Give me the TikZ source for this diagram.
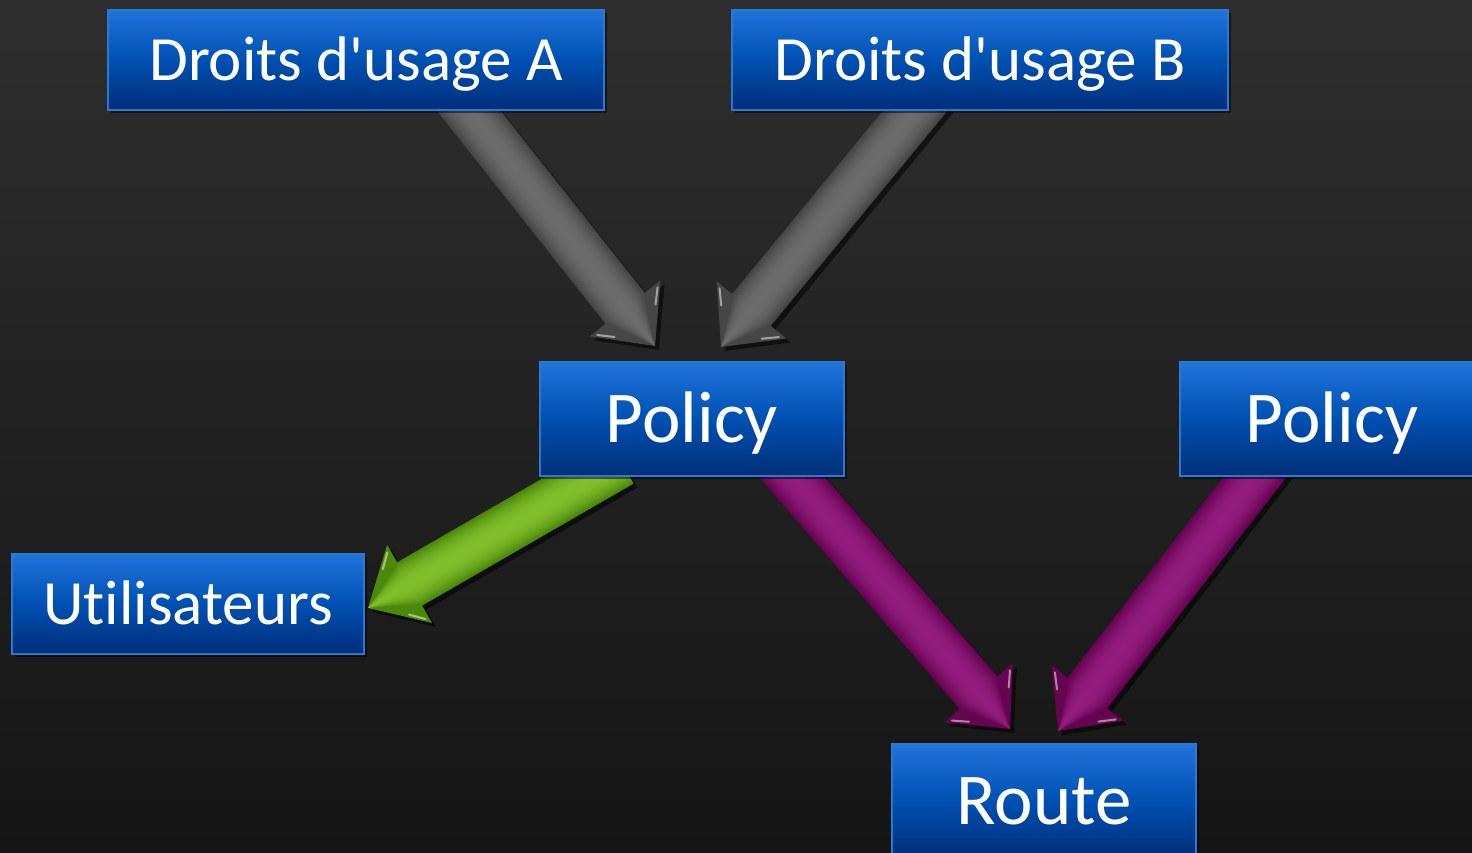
\documentclass[tikz,border=0pt]{standalone}
\usepackage{fontspec}
\setmainfont{Carlito}[Ligatures={TeXOff,NoCommon}]
\usetikzlibrary{calc,shadows}
\pgfdeclarelayer{bg}
\pgfdeclarelayer{arr}
\pgfsetlayers{bg,arr,main}
\definecolor{bgtop}{HTML}{2E2E2E}
\definecolor{bgbot}{HTML}{151515}
\definecolor{boxtop}{HTML}{2174DC}
\definecolor{boxmid}{HTML}{0050B2}
\definecolor{boxbot}{HTML}{002E78}
\definecolor{boxline}{HTML}{2A7AD4}
\definecolor{grayarr}{HTML}{464646}
\definecolor{graylight}{HTML}{6C6C6C}
\definecolor{purparr}{HTML}{650450}
\definecolor{purplight}{HTML}{921C7D}
\definecolor{greenarr}{HTML}{4C880A}
\definecolor{greenlight}{HTML}{80BF2C}
\tikzset{
  bluebox/.style={rectangle, draw=boxline, line width=2pt,
    top color=boxtop, bottom color=boxbot, middle color=boxmid,
    text=white, inner sep=0pt, text depth=0pt,
    drop shadow={opacity=0.5, fill=black, shadow xshift=3pt, shadow yshift=-3pt}},
  widebox/.style={bluebox, minimum width=496pt, minimum height=100pt,
    font=\fontsize{63}{70}\selectfont, text height=40.6pt},
  smallbox/.style={bluebox, minimum width=352pt, minimum height=100pt,
    font=\fontsize{63}{70}\selectfont, text height=40.6pt},
  tallbox/.style={bluebox, minimum width=304pt, minimum height=114pt,
    font=\fontsize{73}{80}\selectfont, text height=47pt},
  arrshadow/.style={drop shadow={opacity=0.55, fill=black, shadow xshift=4pt, shadow yshift=-4pt}},
  glint/.style={white, opacity=0.5, line width=2pt, line cap=round}
}
% #1 tail point, #2 tip point, #3 edge colour, #4 centre colour
\newcommand\blockarrow[4]{%
  \coordinate (t0) at (#1);
  \coordinate (p) at (#2);
  \coordinate (t) at ($(t0)!-30pt!(p)$);
  \coordinate (h) at ($(p)!48pt!(t)$);
  \coordinate (b1) at ($(h)!45pt!-90:(t)$);
  \coordinate (b2) at ($(h)!45pt!90:(t)$);
  \fill[#3, arrshadow]
    ($(t)!25pt!90:(p)$) -- ($(h)!25pt!-90:(t)$) -- (b1) --
    (p) -- (b2) -- ($(h)!25pt!90:(t)$) -- ($(t)!25pt!-90:(p)$) -- cycle;
  \foreach \i in {1,...,12}{
    \pgfmathsetmacro\w{25*(1-\i/13)}
    \pgfmathtruncatemacro\pc{100*(1-(1-\i/12)^2)}
    \fill[#4!\pc!#3]
      ($(t)!\w pt!90:(p)$) -- ($(h)!\w pt!-90:(t)$) -- ($(p)!0.5pt!(h)$) --
      ($(h)!\w pt!90:(t)$) -- ($(t)!\w pt!-90:(p)$) -- cycle;
  }
  \draw[glint] ($(b1)!0.08!(p)!3pt!(h)$) -- ($(b1)!0.36!(p)!3pt!(h)$);
  \draw[glint] ($(b2)!0.08!(p)!3pt!(h)$) -- ($(b2)!0.36!(p)!3pt!(h)$);
}
\begin{document}
\begin{tikzpicture}[x=1pt, y=-1pt]
\useasboundingbox (0,0) rectangle (1472,853);
\begin{pgfonlayer}{bg}
  \shade[top color=bgtop, bottom color=bgbot] (0,0) rectangle (1472,853);
\end{pgfonlayer}

\node[widebox] (A) at (356,60) {Droits d'usage A};
\node[widebox] (B) at (980,60) {Droits d'usage B};
\node[tallbox] (P) at (692,419) {Policy};
\node[tallbox] (Q) at (1332,419) {Policy};
\node[smallbox] (U) at (188,604) {Utilisateurs};
\node[tallbox] (R) at (1044,801) {Route};

\begin{pgfonlayer}{arr}
  \blockarrow{[xshift=113pt]A.south}{[xshift=-37pt, yshift=15pt]P.north}{grayarr}{graylight}
  \blockarrow{[xshift=-65pt]B.south}{[xshift=29pt, yshift=14pt]P.north}{grayarr}{graylight}
  \blockarrow{[xshift=-97pt]P.south}{[xshift=3pt, yshift=-4pt]U.east}{greenarr}{greenlight}
  \blockarrow{[xshift=100pt]P.south}{[xshift=-34pt, yshift=14pt]R.north}{purparr}{purplight}
  \blockarrow{[xshift=-77pt]Q.south}{[xshift=14pt, yshift=12pt]R.north}{purparr}{purplight}
\end{pgfonlayer}
\end{tikzpicture}
\end{document}
